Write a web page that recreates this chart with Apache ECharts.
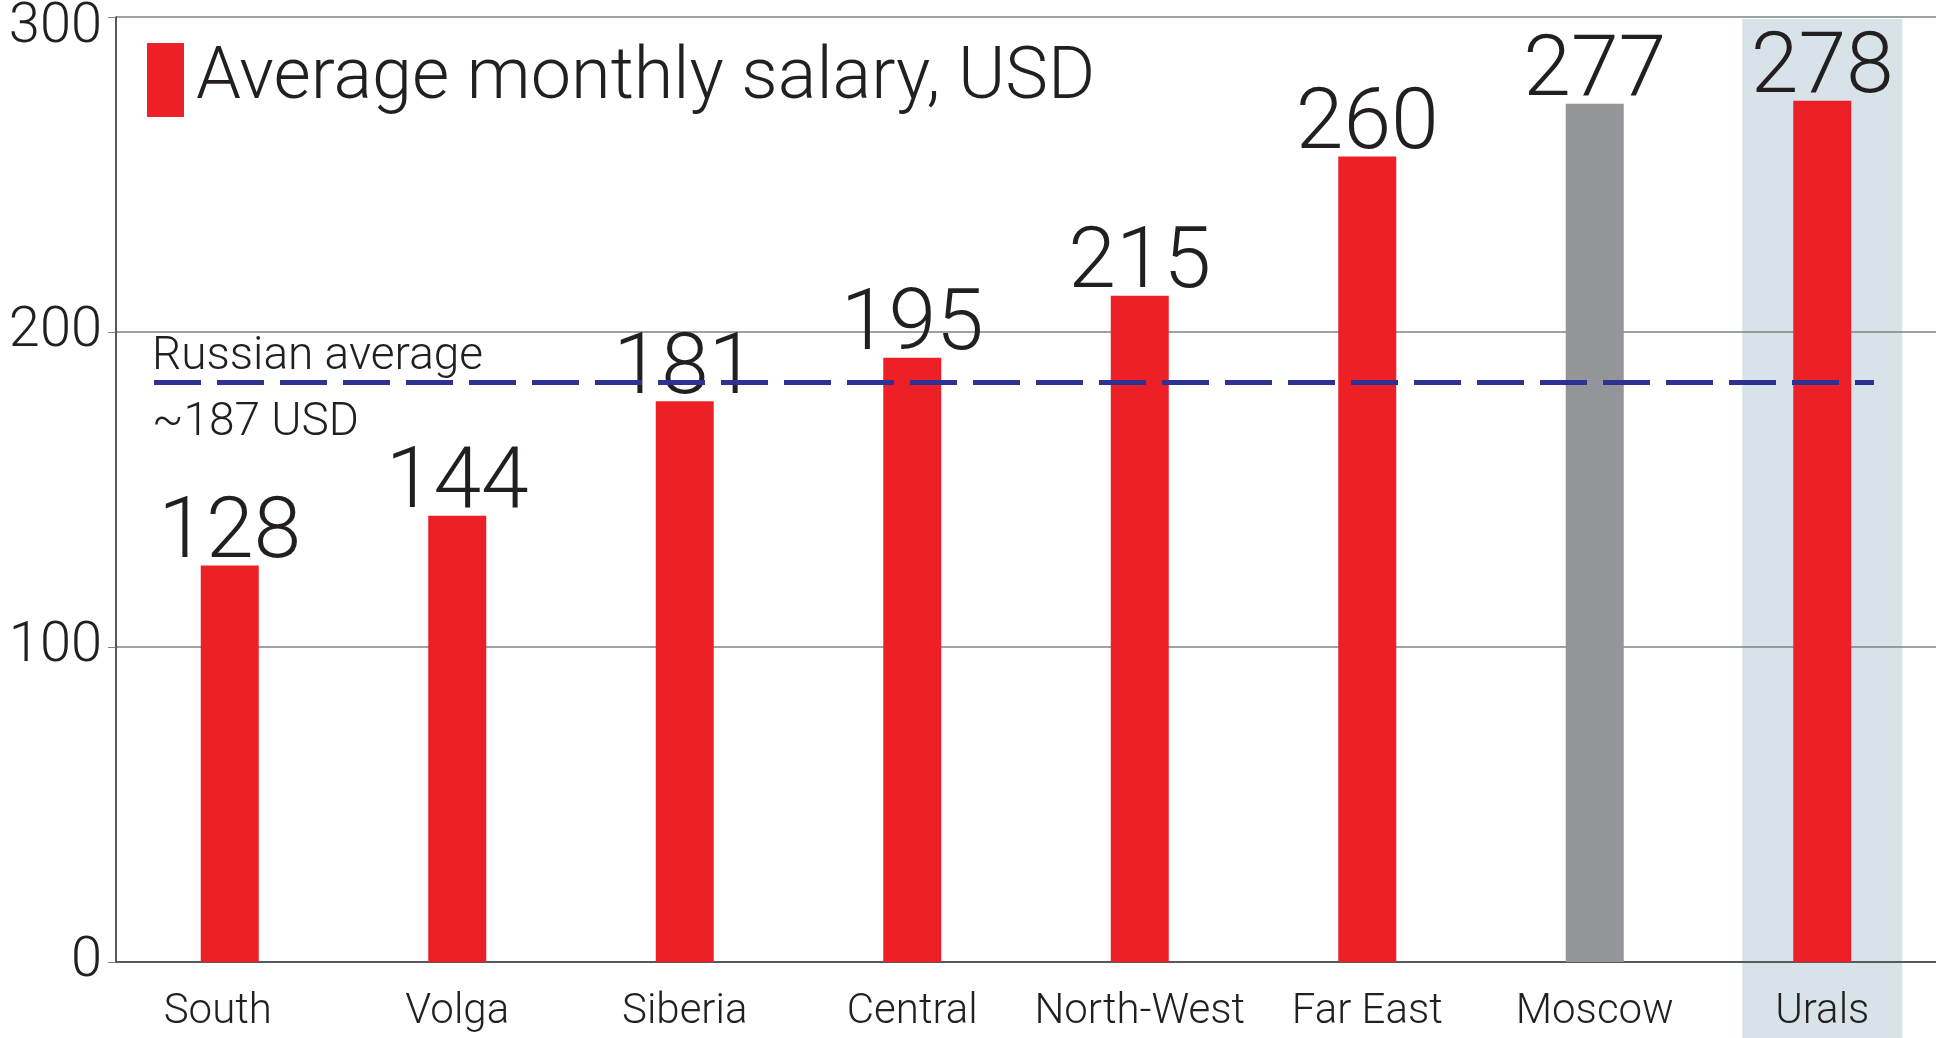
<!DOCTYPE html>
<html>
<head>
<meta charset="utf-8">
<script src="https://cdn.jsdelivr.net/npm/echarts@6/dist/echarts.min.js"></script>
<style>
html, body { margin: 0; padding: 0; background: #fff; }
#chart { width: 1936px; height: 1038px; }
</style>
</head>
<body>
<div id="chart"></div>
<script>
const regions = ["South", "Volga", "Siberia", "Central", "North-West", "Far East", "Moscow", "Urals"];
const salaries = [128, 144, 181, 195, 215, 260, 277, 278];
const yTicks = [0, 100, 200, 300];
const russianAverage = 187;
const seriesName = "Average monthly salary, USD";
const greyRegion = "Moscow";
const highlighted = "Urals";

const textColor = "#231f20";
const chart = echarts.init(document.getElementById("chart"));

const option = {
  animation: false,
  textStyle: { fontFamily: "Roboto" },
  grid: { left: 116, right: 0, top: 14, bottom: 76 },
  legend: {
    left: 147,
    top: 43,
    padding: 0,
    icon: "rect",
    itemWidth: 37,
    itemHeight: 74,
    data: [seriesName],
    textStyle: { fontSize: 72, fontWeight: 300, color: textColor, padding: [4, 0, 0, 7] }
  },
  xAxis: {
    type: "category",
    data: regions,
    axisLine: { lineStyle: { color: "#58595b", width: 2 } },
    axisTick: { length: 9, lineStyle: { color: textColor } },
    axisLabel: {
      interval: 0,
      fontSize: 42,
      fontWeight: 300,
      color: textColor,
      margin: 29,
      // first label is set a bit left of its bar in the original
      formatter: (v, i) => (i === 0 ? "{s|" + v + "}" : v),
      rich: { s: { fontSize: 42, fontWeight: 300, color: textColor, padding: [0, 24, 0, 0] } }
    }
  },
  yAxis: [
    {
      type: "value",
      min: yTicks[0],
      max: yTicks[yTicks.length - 1],
      interval: yTicks[1] - yTicks[0],
      axisLine: { show: true, lineStyle: { color: textColor, width: 1.5 } },
      axisTick: { show: true, length: 8, lineStyle: { color: "#808285" } },
      splitLine: { lineStyle: { color: "#808285", width: 1.5 } },
      axisLabel: {
        fontSize: 56,
        fontWeight: 300,
        color: textColor,
        margin: 14,
        // top label sits a little below its line in the original
        formatter: (v) => (v === yTicks[yTicks.length - 1] ? "{t|" + v + "}" : v),
        rich: { t: { fontSize: 56, fontWeight: 300, color: textColor, padding: [22, 0, 0, 0] } }
      }
    },
    // the original draws its bars on a slightly compressed scale
    { type: "value", min: 0, max: 305, show: false }
  ],
  series: [
    {
      name: seriesName,
      type: "bar",
      yAxisIndex: 1,
      barWidth: 58,
      itemStyle: { color: "#ed1f27" },
      data: salaries.map((v, i) =>
        regions[i] === greyRegion ? { value: v, itemStyle: { color: "#939598" } } : v
      ),
      label: {
        show: true,
        position: "top",
        distance: -13,
        fontSize: 86,
        fontWeight: 300,
        color: textColor
      },
      markLine: {
        silent: true,
        symbol: "none",
        animation: false,
        lineStyle: { color: "#2e3192", width: 5, type: [47, 16] },
        label: { fontSize: 46, fontWeight: 300, color: textColor },
        data: [
          [
            {
              x: 154,
              yAxis: russianAverage,
              label: { show: true, position: "insideStartTop", distance: [-2, 2], formatter: "Russian average" }
            },
            { x: 1874, yAxis: russianAverage }
          ],
          [
            {
              x: 154,
              yAxis: russianAverage,
              lineStyle: { color: "rgba(0,0,0,0)" },
              label: { show: true, position: "insideStartBottom", distance: [-2, 18], formatter: "~" + russianAverage + " USD" }
            },
            { x: 1874, yAxis: russianAverage }
          ]
        ]
      }
    }
  ]
};
chart.setOption(option);

// light band behind the highlighted region
const cx = chart.convertToPixel({ xAxisIndex: 0 }, highlighted);
chart.setOption({
  graphic: [
    {
      type: "rect",
      z: -10,
      shape: { x: cx - 80, y: 19, width: 160, height: 1038 - 19 },
      style: { fill: "#d7e3e8" }
    }
  ]
});
</script>
</body>
</html>
